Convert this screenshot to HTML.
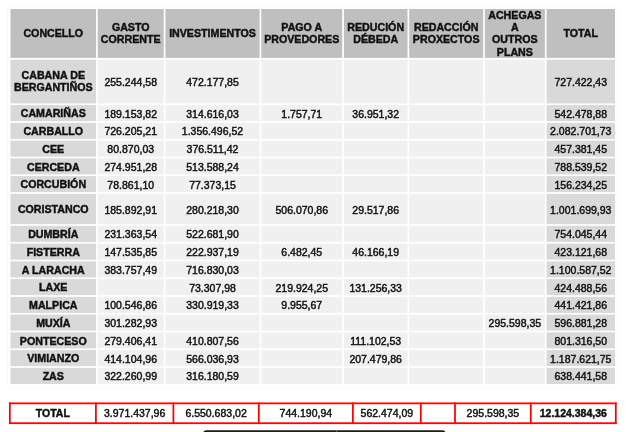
<!DOCTYPE html>
<html><head><meta charset="utf-8"><style>
html,body{margin:0;padding:0;background:#fff;width:631px;height:432px;overflow:hidden;position:relative}
#w{position:absolute;left:0;top:0;width:631px;height:432px;will-change:transform}
body{font-family:"Liberation Sans",sans-serif;color:#111;-webkit-text-stroke:0.45px #111}
svg{position:absolute;left:0;top:0}
.c{position:absolute;display:flex;align-items:center;justify-content:center;text-align:center;box-sizing:border-box;white-space:nowrap;font-size:10.5px}
.h{font-weight:bold;line-height:12.3px;font-size:10.65px}
.f{font-weight:bold;line-height:12.3px;padding-top:1px;font-size:10.65px}
.d{line-height:12px;padding-top:1px}
.np{padding-top:0}
.p2{padding-top:2px}
.tt{padding-top:0}
.b{font-weight:bold}
</style></head><body><div id="w">
<svg width="631" height="432" viewBox="0 0 631 432"><rect x="7.5" y="6.5" width="610" height="381" fill="none" stroke="#fafafa" stroke-width="1"/><rect x="10.5" y="9" width="85.55" height="48.9" fill="#bfbfbf"/><rect x="97.75" y="9" width="65.96" height="48.9" fill="#bfbfbf"/><rect x="165.41" y="9" width="94.18" height="48.9" fill="#bfbfbf"/><rect x="261.29" y="9" width="80.91" height="48.9" fill="#bfbfbf"/><rect x="343.9" y="9" width="63.62" height="48.9" fill="#bfbfbf"/><rect x="409.22" y="9" width="73.91" height="48.9" fill="#bfbfbf"/><rect x="484.83" y="9" width="60.04" height="48.9" fill="#bfbfbf"/><rect x="546.57" y="9" width="68.43" height="48.9" fill="#bfbfbf"/><rect x="10.5" y="59.6" width="85.55" height="43.8" fill="#d9d9d9"/><rect x="97.75" y="59.6" width="65.96" height="43.8" fill="#f0f0f0"/><rect x="165.41" y="59.6" width="94.18" height="43.8" fill="#f0f0f0"/><rect x="261.29" y="59.6" width="80.91" height="43.8" fill="#f0f0f0"/><rect x="343.9" y="59.6" width="63.62" height="43.8" fill="#f0f0f0"/><rect x="409.22" y="59.6" width="73.91" height="43.8" fill="#f0f0f0"/><rect x="484.83" y="59.6" width="60.04" height="43.8" fill="#f0f0f0"/><rect x="546.57" y="59.6" width="68.43" height="43.8" fill="#d9d9d9"/><rect x="10.5" y="105.1" width="85.55" height="16.05" fill="#d9d9d9"/><rect x="97.75" y="105.1" width="65.96" height="16.05" fill="#f0f0f0"/><rect x="165.41" y="105.1" width="94.18" height="16.05" fill="#f0f0f0"/><rect x="261.29" y="105.1" width="80.91" height="16.05" fill="#f0f0f0"/><rect x="343.9" y="105.1" width="63.62" height="16.05" fill="#f0f0f0"/><rect x="409.22" y="105.1" width="73.91" height="16.05" fill="#f0f0f0"/><rect x="484.83" y="105.1" width="60.04" height="16.05" fill="#f0f0f0"/><rect x="546.57" y="105.1" width="68.43" height="16.05" fill="#d9d9d9"/><rect x="10.5" y="122.85" width="85.55" height="16.05" fill="#d9d9d9"/><rect x="97.75" y="122.85" width="65.96" height="16.05" fill="#f0f0f0"/><rect x="165.41" y="122.85" width="94.18" height="16.05" fill="#f0f0f0"/><rect x="261.29" y="122.85" width="80.91" height="16.05" fill="#f0f0f0"/><rect x="343.9" y="122.85" width="63.62" height="16.05" fill="#f0f0f0"/><rect x="409.22" y="122.85" width="73.91" height="16.05" fill="#f0f0f0"/><rect x="484.83" y="122.85" width="60.04" height="16.05" fill="#f0f0f0"/><rect x="546.57" y="122.85" width="68.43" height="16.05" fill="#d9d9d9"/><rect x="10.5" y="140.6" width="85.55" height="16.05" fill="#d9d9d9"/><rect x="97.75" y="140.6" width="65.96" height="16.05" fill="#f0f0f0"/><rect x="165.41" y="140.6" width="94.18" height="16.05" fill="#f0f0f0"/><rect x="261.29" y="140.6" width="80.91" height="16.05" fill="#f0f0f0"/><rect x="343.9" y="140.6" width="63.62" height="16.05" fill="#f0f0f0"/><rect x="409.22" y="140.6" width="73.91" height="16.05" fill="#f0f0f0"/><rect x="484.83" y="140.6" width="60.04" height="16.05" fill="#f0f0f0"/><rect x="546.57" y="140.6" width="68.43" height="16.05" fill="#d9d9d9"/><rect x="10.5" y="158.35" width="85.55" height="16.05" fill="#d9d9d9"/><rect x="97.75" y="158.35" width="65.96" height="16.05" fill="#f0f0f0"/><rect x="165.41" y="158.35" width="94.18" height="16.05" fill="#f0f0f0"/><rect x="261.29" y="158.35" width="80.91" height="16.05" fill="#f0f0f0"/><rect x="343.9" y="158.35" width="63.62" height="16.05" fill="#f0f0f0"/><rect x="409.22" y="158.35" width="73.91" height="16.05" fill="#f0f0f0"/><rect x="484.83" y="158.35" width="60.04" height="16.05" fill="#f0f0f0"/><rect x="546.57" y="158.35" width="68.43" height="16.05" fill="#d9d9d9"/><rect x="10.5" y="176.1" width="85.55" height="16.05" fill="#d9d9d9"/><rect x="97.75" y="176.1" width="65.96" height="16.05" fill="#f0f0f0"/><rect x="165.41" y="176.1" width="94.18" height="16.05" fill="#f0f0f0"/><rect x="261.29" y="176.1" width="80.91" height="16.05" fill="#f0f0f0"/><rect x="343.9" y="176.1" width="63.62" height="16.05" fill="#f0f0f0"/><rect x="409.22" y="176.1" width="73.91" height="16.05" fill="#f0f0f0"/><rect x="484.83" y="176.1" width="60.04" height="16.05" fill="#f0f0f0"/><rect x="546.57" y="176.1" width="68.43" height="16.05" fill="#d9d9d9"/><rect x="10.5" y="193.85" width="85.55" height="30.3" fill="#d9d9d9"/><rect x="97.75" y="193.85" width="65.96" height="30.3" fill="#f0f0f0"/><rect x="165.41" y="193.85" width="94.18" height="30.3" fill="#f0f0f0"/><rect x="261.29" y="193.85" width="80.91" height="30.3" fill="#f0f0f0"/><rect x="343.9" y="193.85" width="63.62" height="30.3" fill="#f0f0f0"/><rect x="409.22" y="193.85" width="73.91" height="30.3" fill="#f0f0f0"/><rect x="484.83" y="193.85" width="60.04" height="30.3" fill="#f0f0f0"/><rect x="546.57" y="193.85" width="68.43" height="30.3" fill="#d9d9d9"/><rect x="10.5" y="225.85" width="85.55" height="16.05" fill="#d9d9d9"/><rect x="97.75" y="225.85" width="65.96" height="16.05" fill="#f0f0f0"/><rect x="165.41" y="225.85" width="94.18" height="16.05" fill="#f0f0f0"/><rect x="261.29" y="225.85" width="80.91" height="16.05" fill="#f0f0f0"/><rect x="343.9" y="225.85" width="63.62" height="16.05" fill="#f0f0f0"/><rect x="409.22" y="225.85" width="73.91" height="16.05" fill="#f0f0f0"/><rect x="484.83" y="225.85" width="60.04" height="16.05" fill="#f0f0f0"/><rect x="546.57" y="225.85" width="68.43" height="16.05" fill="#d9d9d9"/><rect x="10.5" y="243.6" width="85.55" height="16.05" fill="#d9d9d9"/><rect x="97.75" y="243.6" width="65.96" height="16.05" fill="#f0f0f0"/><rect x="165.41" y="243.6" width="94.18" height="16.05" fill="#f0f0f0"/><rect x="261.29" y="243.6" width="80.91" height="16.05" fill="#f0f0f0"/><rect x="343.9" y="243.6" width="63.62" height="16.05" fill="#f0f0f0"/><rect x="409.22" y="243.6" width="73.91" height="16.05" fill="#f0f0f0"/><rect x="484.83" y="243.6" width="60.04" height="16.05" fill="#f0f0f0"/><rect x="546.57" y="243.6" width="68.43" height="16.05" fill="#d9d9d9"/><rect x="10.5" y="261.35" width="85.55" height="16.05" fill="#d9d9d9"/><rect x="97.75" y="261.35" width="65.96" height="16.05" fill="#f0f0f0"/><rect x="165.41" y="261.35" width="94.18" height="16.05" fill="#f0f0f0"/><rect x="261.29" y="261.35" width="80.91" height="16.05" fill="#f0f0f0"/><rect x="343.9" y="261.35" width="63.62" height="16.05" fill="#f0f0f0"/><rect x="409.22" y="261.35" width="73.91" height="16.05" fill="#f0f0f0"/><rect x="484.83" y="261.35" width="60.04" height="16.05" fill="#f0f0f0"/><rect x="546.57" y="261.35" width="68.43" height="16.05" fill="#d9d9d9"/><rect x="10.5" y="279.1" width="85.55" height="16.05" fill="#d9d9d9"/><rect x="97.75" y="279.1" width="65.96" height="16.05" fill="#f0f0f0"/><rect x="165.41" y="279.1" width="94.18" height="16.05" fill="#f0f0f0"/><rect x="261.29" y="279.1" width="80.91" height="16.05" fill="#f0f0f0"/><rect x="343.9" y="279.1" width="63.62" height="16.05" fill="#f0f0f0"/><rect x="409.22" y="279.1" width="73.91" height="16.05" fill="#f0f0f0"/><rect x="484.83" y="279.1" width="60.04" height="16.05" fill="#f0f0f0"/><rect x="546.57" y="279.1" width="68.43" height="16.05" fill="#d9d9d9"/><rect x="10.5" y="296.85" width="85.55" height="16.05" fill="#d9d9d9"/><rect x="97.75" y="296.85" width="65.96" height="16.05" fill="#f0f0f0"/><rect x="165.41" y="296.85" width="94.18" height="16.05" fill="#f0f0f0"/><rect x="261.29" y="296.85" width="80.91" height="16.05" fill="#f0f0f0"/><rect x="343.9" y="296.85" width="63.62" height="16.05" fill="#f0f0f0"/><rect x="409.22" y="296.85" width="73.91" height="16.05" fill="#f0f0f0"/><rect x="484.83" y="296.85" width="60.04" height="16.05" fill="#f0f0f0"/><rect x="546.57" y="296.85" width="68.43" height="16.05" fill="#d9d9d9"/><rect x="10.5" y="314.6" width="85.55" height="16.05" fill="#d9d9d9"/><rect x="97.75" y="314.6" width="65.96" height="16.05" fill="#f0f0f0"/><rect x="165.41" y="314.6" width="94.18" height="16.05" fill="#f0f0f0"/><rect x="261.29" y="314.6" width="80.91" height="16.05" fill="#f0f0f0"/><rect x="343.9" y="314.6" width="63.62" height="16.05" fill="#f0f0f0"/><rect x="409.22" y="314.6" width="73.91" height="16.05" fill="#f0f0f0"/><rect x="484.83" y="314.6" width="60.04" height="16.05" fill="#f0f0f0"/><rect x="546.57" y="314.6" width="68.43" height="16.05" fill="#d9d9d9"/><rect x="10.5" y="332.35" width="85.55" height="16.05" fill="#d9d9d9"/><rect x="97.75" y="332.35" width="65.96" height="16.05" fill="#f0f0f0"/><rect x="165.41" y="332.35" width="94.18" height="16.05" fill="#f0f0f0"/><rect x="261.29" y="332.35" width="80.91" height="16.05" fill="#f0f0f0"/><rect x="343.9" y="332.35" width="63.62" height="16.05" fill="#f0f0f0"/><rect x="409.22" y="332.35" width="73.91" height="16.05" fill="#f0f0f0"/><rect x="484.83" y="332.35" width="60.04" height="16.05" fill="#f0f0f0"/><rect x="546.57" y="332.35" width="68.43" height="16.05" fill="#d9d9d9"/><rect x="10.5" y="350.1" width="85.55" height="16.05" fill="#d9d9d9"/><rect x="97.75" y="350.1" width="65.96" height="16.05" fill="#f0f0f0"/><rect x="165.41" y="350.1" width="94.18" height="16.05" fill="#f0f0f0"/><rect x="261.29" y="350.1" width="80.91" height="16.05" fill="#f0f0f0"/><rect x="343.9" y="350.1" width="63.62" height="16.05" fill="#f0f0f0"/><rect x="409.22" y="350.1" width="73.91" height="16.05" fill="#f0f0f0"/><rect x="484.83" y="350.1" width="60.04" height="16.05" fill="#f0f0f0"/><rect x="546.57" y="350.1" width="68.43" height="16.05" fill="#d9d9d9"/><rect x="10.5" y="367.85" width="85.55" height="16.15" fill="#d9d9d9"/><rect x="97.75" y="367.85" width="65.96" height="16.15" fill="#f0f0f0"/><rect x="165.41" y="367.85" width="94.18" height="16.15" fill="#f0f0f0"/><rect x="261.29" y="367.85" width="80.91" height="16.15" fill="#f0f0f0"/><rect x="343.9" y="367.85" width="63.62" height="16.15" fill="#f0f0f0"/><rect x="409.22" y="367.85" width="73.91" height="16.15" fill="#f0f0f0"/><rect x="484.83" y="367.85" width="60.04" height="16.15" fill="#f0f0f0"/><rect x="546.57" y="367.85" width="68.43" height="16.15" fill="#d9d9d9"/><rect x="8.97" y="402.48" width="607.7" height="1.75" fill="#ff0000"/><rect x="8.97" y="422.32" width="607.7" height="1.75" fill="#ff0000"/><rect x="8.97" y="402.48" width="1.75" height="21.6" fill="#ff0000"/><rect x="95.03" y="402.48" width="1.75" height="21.6" fill="#ff0000"/><rect x="172.53" y="402.48" width="1.75" height="21.6" fill="#ff0000"/><rect x="257.93" y="402.48" width="1.75" height="21.6" fill="#ff0000"/><rect x="352.02" y="402.48" width="1.75" height="21.6" fill="#ff0000"/><rect x="419.93" y="402.48" width="1.75" height="21.6" fill="#ff0000"/><rect x="454.12" y="402.48" width="1.75" height="21.6" fill="#ff0000"/><rect x="529.92" y="402.48" width="1.75" height="21.6" fill="#ff0000"/><rect x="614.92" y="402.48" width="1.75" height="21.6" fill="#ff0000"/><rect x="203.2" y="430.2" width="242.3" height="8" rx="3" ry="3" fill="#1c1c1c"/><rect x="336.2" y="430.6" width="1" height="3" fill="#777"/></svg>
<div class="c h" style="left:10.5px;top:9px;width:85.55px;height:48.9px">CONCELLO</div>
<div class="c h" style="left:97.75px;top:9px;width:65.96px;height:48.9px">GASTO<br>CORRENTE</div>
<div class="c h" style="left:165.41px;top:9px;width:94.18px;height:48.9px">INVESTIMENTOS</div>
<div class="c h" style="left:261.29px;top:9px;width:80.91px;height:48.9px">PAGO A<br>PROVEDORES</div>
<div class="c h" style="left:343.9px;top:9px;width:63.62px;height:48.9px">REDUCIÓN<br>DÉBEDA</div>
<div class="c h" style="left:409.22px;top:9px;width:73.91px;height:48.9px">REDACCIÓN<br>PROXECTOS</div>
<div class="c h" style="left:484.83px;top:9px;width:60.04px;height:48.9px">ACHEGAS<br>A<br>OUTROS<br>PLANS</div>
<div class="c h" style="left:546.57px;top:9px;width:68.43px;height:48.9px">TOTAL</div>
<div class="c f np" style="left:10.5px;top:59.6px;width:85.55px;height:43.8px">CABANA DE<br>BERGANTIÑOS</div>
<div class="c d" style="left:97.75px;top:59.6px;width:65.96px;height:43.8px">255.244,58</div>
<div class="c d" style="left:165.41px;top:59.6px;width:94.18px;height:43.8px">472.177,85</div>
<div class="c d" style="left:546.57px;top:59.6px;width:68.43px;height:43.8px">727.422,43</div>
<div class="c f" style="left:10.5px;top:105.1px;width:85.55px;height:16.05px">CAMARIÑAS</div>
<div class="c d" style="left:97.75px;top:105.1px;width:65.96px;height:16.05px">189.153,82</div>
<div class="c d" style="left:165.41px;top:105.1px;width:94.18px;height:16.05px">314.616,03</div>
<div class="c d" style="left:261.29px;top:105.1px;width:80.91px;height:16.05px">1.757,71</div>
<div class="c d" style="left:343.9px;top:105.1px;width:63.62px;height:16.05px">36.951,32</div>
<div class="c d" style="left:546.57px;top:105.1px;width:68.43px;height:16.05px">542.478,88</div>
<div class="c f" style="left:10.5px;top:122.85px;width:85.55px;height:16.05px">CARBALLO</div>
<div class="c d" style="left:97.75px;top:122.85px;width:65.96px;height:16.05px">726.205,21</div>
<div class="c d" style="left:165.41px;top:122.85px;width:94.18px;height:16.05px">1.356.496,52</div>
<div class="c d" style="left:546.57px;top:122.85px;width:68.43px;height:16.05px">2.082.701,73</div>
<div class="c f" style="left:10.5px;top:140.6px;width:85.55px;height:16.05px">CEE</div>
<div class="c d" style="left:97.75px;top:140.6px;width:65.96px;height:16.05px">80.870,03</div>
<div class="c d" style="left:165.41px;top:140.6px;width:94.18px;height:16.05px">376.511,42</div>
<div class="c d" style="left:546.57px;top:140.6px;width:68.43px;height:16.05px">457.381,45</div>
<div class="c f" style="left:10.5px;top:158.35px;width:85.55px;height:16.05px">CERCEDA</div>
<div class="c d" style="left:97.75px;top:158.35px;width:65.96px;height:16.05px">274.951,28</div>
<div class="c d" style="left:165.41px;top:158.35px;width:94.18px;height:16.05px">513.588,24</div>
<div class="c d" style="left:546.57px;top:158.35px;width:68.43px;height:16.05px">788.539,52</div>
<div class="c f" style="left:10.5px;top:176.1px;width:85.55px;height:16.05px">CORCUBIÓN</div>
<div class="c d" style="left:97.75px;top:176.1px;width:65.96px;height:16.05px">78.861,10</div>
<div class="c d" style="left:165.41px;top:176.1px;width:94.18px;height:16.05px">77.373,15</div>
<div class="c d" style="left:546.57px;top:176.1px;width:68.43px;height:16.05px">156.234,25</div>
<div class="c f" style="left:10.5px;top:193.85px;width:85.55px;height:30.3px">CORISTANCO</div>
<div class="c d p2" style="left:97.75px;top:193.85px;width:65.96px;height:30.3px">185.892,91</div>
<div class="c d p2" style="left:165.41px;top:193.85px;width:94.18px;height:30.3px">280.218,30</div>
<div class="c d p2" style="left:261.29px;top:193.85px;width:80.91px;height:30.3px">506.070,86</div>
<div class="c d p2" style="left:343.9px;top:193.85px;width:63.62px;height:30.3px">29.517,86</div>
<div class="c d p2" style="left:546.57px;top:193.85px;width:68.43px;height:30.3px">1.001.699,93</div>
<div class="c f" style="left:10.5px;top:225.85px;width:85.55px;height:16.05px">DUMBRÍA</div>
<div class="c d" style="left:97.75px;top:225.85px;width:65.96px;height:16.05px">231.363,54</div>
<div class="c d" style="left:165.41px;top:225.85px;width:94.18px;height:16.05px">522.681,90</div>
<div class="c d" style="left:546.57px;top:225.85px;width:68.43px;height:16.05px">754.045,44</div>
<div class="c f" style="left:10.5px;top:243.6px;width:85.55px;height:16.05px">FISTERRA</div>
<div class="c d" style="left:97.75px;top:243.6px;width:65.96px;height:16.05px">147.535,85</div>
<div class="c d" style="left:165.41px;top:243.6px;width:94.18px;height:16.05px">222.937,19</div>
<div class="c d" style="left:261.29px;top:243.6px;width:80.91px;height:16.05px">6.482,45</div>
<div class="c d" style="left:343.9px;top:243.6px;width:63.62px;height:16.05px">46.166,19</div>
<div class="c d" style="left:546.57px;top:243.6px;width:68.43px;height:16.05px">423.121,68</div>
<div class="c f" style="left:10.5px;top:261.35px;width:85.55px;height:16.05px">A LARACHA</div>
<div class="c d" style="left:97.75px;top:261.35px;width:65.96px;height:16.05px">383.757,49</div>
<div class="c d" style="left:165.41px;top:261.35px;width:94.18px;height:16.05px">716.830,03</div>
<div class="c d" style="left:546.57px;top:261.35px;width:68.43px;height:16.05px">1.100.587,52</div>
<div class="c f" style="left:10.5px;top:279.1px;width:85.55px;height:16.05px">LAXE</div>
<div class="c d" style="left:165.41px;top:279.1px;width:94.18px;height:16.05px">73.307,98</div>
<div class="c d" style="left:261.29px;top:279.1px;width:80.91px;height:16.05px">219.924,25</div>
<div class="c d" style="left:343.9px;top:279.1px;width:63.62px;height:16.05px">131.256,33</div>
<div class="c d" style="left:546.57px;top:279.1px;width:68.43px;height:16.05px">424.488,56</div>
<div class="c f" style="left:10.5px;top:296.85px;width:85.55px;height:16.05px">MALPICA</div>
<div class="c d" style="left:97.75px;top:296.85px;width:65.96px;height:16.05px">100.546,86</div>
<div class="c d" style="left:165.41px;top:296.85px;width:94.18px;height:16.05px">330.919,33</div>
<div class="c d" style="left:261.29px;top:296.85px;width:80.91px;height:16.05px">9.955,67</div>
<div class="c d" style="left:546.57px;top:296.85px;width:68.43px;height:16.05px">441.421,86</div>
<div class="c f" style="left:10.5px;top:314.6px;width:85.55px;height:16.05px">MUXÍA</div>
<div class="c d" style="left:97.75px;top:314.6px;width:65.96px;height:16.05px">301.282,93</div>
<div class="c d" style="left:484.83px;top:314.6px;width:60.04px;height:16.05px">295.598,35</div>
<div class="c d" style="left:546.57px;top:314.6px;width:68.43px;height:16.05px">596.881,28</div>
<div class="c f" style="left:10.5px;top:332.35px;width:85.55px;height:16.05px">PONTECESO</div>
<div class="c d" style="left:97.75px;top:332.35px;width:65.96px;height:16.05px">279.406,41</div>
<div class="c d" style="left:165.41px;top:332.35px;width:94.18px;height:16.05px">410.807,56</div>
<div class="c d" style="left:343.9px;top:332.35px;width:63.62px;height:16.05px">111.102,53</div>
<div class="c d" style="left:546.57px;top:332.35px;width:68.43px;height:16.05px">801.316,50</div>
<div class="c f" style="left:10.5px;top:350.1px;width:85.55px;height:16.05px">VIMIANZO</div>
<div class="c d" style="left:97.75px;top:350.1px;width:65.96px;height:16.05px">414.104,96</div>
<div class="c d" style="left:165.41px;top:350.1px;width:94.18px;height:16.05px">566.036,93</div>
<div class="c d" style="left:343.9px;top:350.1px;width:63.62px;height:16.05px">207.479,86</div>
<div class="c d" style="left:546.57px;top:350.1px;width:68.43px;height:16.05px">1.187.621,75</div>
<div class="c f" style="left:10.5px;top:367.85px;width:85.55px;height:16.15px">ZAS</div>
<div class="c d" style="left:97.75px;top:367.85px;width:65.96px;height:16.15px">322.260,99</div>
<div class="c d" style="left:165.41px;top:367.85px;width:94.18px;height:16.15px">316.180,59</div>
<div class="c d" style="left:546.57px;top:367.85px;width:68.43px;height:16.15px">638.441,58</div>
<div class="c tt b" style="left:10.72px;top:404.23px;width:84.3px;height:18.1px">TOTAL</div>
<div class="c tt" style="left:96.78px;top:404.23px;width:75.75px;height:18.1px">3.971.437,96</div>
<div class="c tt" style="left:174.28px;top:404.23px;width:83.65px;height:18.1px">6.550.683,02</div>
<div class="c tt" style="left:259.68px;top:404.23px;width:92.35px;height:18.1px">744.190,94</div>
<div class="c tt" style="left:353.77px;top:404.23px;width:66.15px;height:18.1px">562.474,09</div>
<div class="c tt" style="left:455.88px;top:404.23px;width:74.05px;height:18.1px">295.598,35</div>
<div class="c tt b" style="left:531.67px;top:404.23px;width:83.25px;height:18.1px">12.124.384,36</div>
</div></body></html>
